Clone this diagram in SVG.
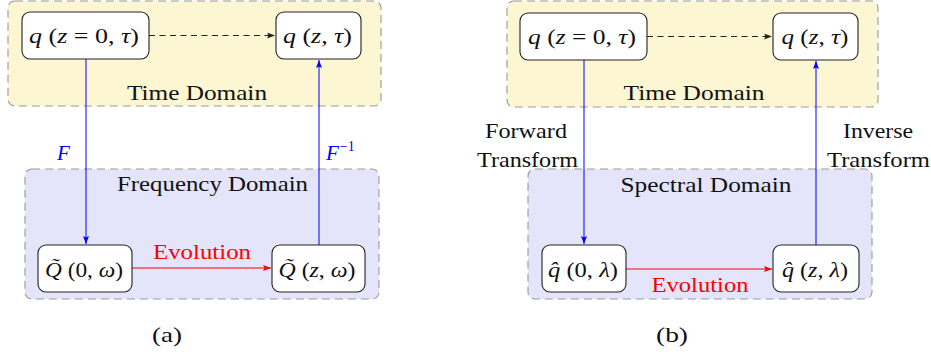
<svg xmlns="http://www.w3.org/2000/svg" width="931" height="360" viewBox="0 0 931 360">
<style>
text{font-family:"Liberation Serif","Times New Roman",serif;font-size:21px;fill:#111;}
.i{font-style:italic;}
.mid{text-anchor:middle;}
.node rect{fill:#fff;stroke:#222;stroke-width:1.1;}
.tbox{fill:#fcf6d2;stroke:#999;stroke-width:1.1;stroke-dasharray:8 5;}
.fbox{fill:#e4e4fb;stroke:#999;stroke-width:1.1;stroke-dasharray:8 5;}
.dash{stroke:#222;stroke-width:1;stroke-dasharray:6 4.5;fill:none;}
.blue{stroke:#0000ff;stroke-width:1;fill:none;}
.red{stroke:#ff0000;stroke-width:1;fill:none;}
.bt{fill:#0000ff;}
.rt{fill:#ff0000;}
</style>
<defs>
<marker id="ak" viewBox="0 0 8 6" refX="8" refY="3" markerWidth="8" markerHeight="6" markerUnits="userSpaceOnUse" orient="auto"><path d="M0,0 L8,3 L0,6 L1.5,3 Z" fill="#222"/></marker>
<marker id="ab" viewBox="0 0 8 6" refX="8" refY="3" markerWidth="8" markerHeight="6" markerUnits="userSpaceOnUse" orient="auto"><path d="M0,0 L8,3 L0,6 L1.5,3 Z" fill="#0000ff"/></marker>
<marker id="ar" viewBox="0 0 8 6" refX="8" refY="3" markerWidth="8" markerHeight="6" markerUnits="userSpaceOnUse" orient="auto"><path d="M0,0 L8,3 L0,6 L1.5,3 Z" fill="#ff0000"/></marker>
</defs>

<!-- Panel (a) domains -->
<g id="a-time-domain">
<rect class="tbox" x="8" y="1" width="373" height="105" rx="7"/>
<text class="mid" x="197" y="100" textLength="140" lengthAdjust="spacingAndGlyphs">Time Domain</text>
</g>
<g id="a-freq-domain">
<rect class="fbox" x="25" y="169" width="354" height="130" rx="7"/>
<text class="mid" x="212.5" y="191" textLength="191" lengthAdjust="spacingAndGlyphs">Frequency Domain</text>
</g>

<!-- Panel (b) domains -->
<g id="b-time-domain">
<rect class="tbox" x="507" y="1" width="371" height="106" rx="7"/>
<text class="mid" x="694" y="100" textLength="141" lengthAdjust="spacingAndGlyphs">Time Domain</text>
</g>
<g id="b-spectral-domain">
<rect class="fbox" x="528" y="169" width="344" height="130" rx="7"/>
<text class="mid" x="706" y="192" textLength="171" lengthAdjust="spacingAndGlyphs">Spectral Domain</text>
</g>

<!-- connectors -->
<g id="connectors">
<line class="dash" x1="149" y1="35.5" x2="275" y2="35.5" marker-end="url(#ak)"/>
<line class="blue" x1="86" y1="59" x2="86" y2="244" marker-end="url(#ab)"/>
<line class="blue" x1="319" y1="245" x2="319" y2="60" marker-end="url(#ab)"/>
<line class="red" x1="132" y1="268" x2="271" y2="268" marker-end="url(#ar)"/>
<text class="mid rt" x="202" y="259" textLength="98" lengthAdjust="spacingAndGlyphs">Evolution</text>
<text class="i bt" x="57" y="160" font-family="DejaVu Serif, serif">F</text>
<text class="i bt" x="326" y="160" font-family="DejaVu Serif, serif">F<tspan dx="1" dy="-9" font-size="14" font-style="normal">−1</tspan></text>

<line class="dash" x1="647" y1="36.5" x2="772" y2="36.5" marker-end="url(#ak)"/>
<line class="blue" x1="584" y1="60" x2="584" y2="244" marker-end="url(#ab)"/>
<line class="blue" x1="816" y1="245" x2="816" y2="61" marker-end="url(#ab)"/>
<line class="red" x1="626" y1="269" x2="772" y2="269" marker-end="url(#ar)"/>
<text class="mid rt" x="700" y="292" textLength="97" lengthAdjust="spacingAndGlyphs">Evolution</text>
<text class="mid" x="526" y="138" textLength="82" lengthAdjust="spacingAndGlyphs">Forward</text>
<text class="mid" x="527.5" y="167" textLength="101" lengthAdjust="spacingAndGlyphs">Transform</text>
<text class="mid" x="878" y="138" textLength="70" lengthAdjust="spacingAndGlyphs">Inverse</text>
<text class="mid" x="878.5" y="167" textLength="103" lengthAdjust="spacingAndGlyphs">Transform</text>
</g>

<!-- Panel (a) nodes -->
<g id="a-q0" class="node">
<rect x="22" y="12" width="127" height="47" rx="8"/>
<text class="mid" x="84" y="43" textLength="110" lengthAdjust="spacingAndGlyphs"><tspan class="i">q</tspan> (<tspan class="i">z</tspan> = 0, <tspan class="i">τ</tspan>)</text>
</g>
<g id="a-qz" class="node">
<rect x="276" y="12" width="85" height="47" rx="8"/>
<text class="mid" x="317.5" y="43" textLength="69" lengthAdjust="spacingAndGlyphs"><tspan class="i">q</tspan> (<tspan class="i">z</tspan>, <tspan class="i">τ</tspan>)</text>
</g>
<g id="a-Q0" class="node">
<rect x="38" y="245" width="94" height="47" rx="8"/>
<text class="mid" x="84" y="277" textLength="78" lengthAdjust="spacingAndGlyphs"><tspan class="i">Q̃</tspan> (0, <tspan class="i">ω</tspan>)</text>
</g>
<g id="a-Qz" class="node">
<rect x="272" y="245" width="93" height="47" rx="8"/>
<text class="mid" x="317" y="277" textLength="77" lengthAdjust="spacingAndGlyphs"><tspan class="i">Q̃</tspan> (<tspan class="i">z</tspan>, <tspan class="i">ω</tspan>)</text>
</g>

<!-- Panel (b) nodes -->
<g id="b-q0" class="node">
<rect x="520" y="13" width="127" height="47" rx="8"/>
<text class="mid" x="582" y="44" textLength="108" lengthAdjust="spacingAndGlyphs"><tspan class="i">q</tspan> (<tspan class="i">z</tspan> = 0, <tspan class="i">τ</tspan>)</text>
</g>
<g id="b-qz" class="node">
<rect x="773" y="13" width="85" height="47" rx="8"/>
<text class="mid" x="815" y="44" textLength="67" lengthAdjust="spacingAndGlyphs"><tspan class="i">q</tspan> (<tspan class="i">z</tspan>, <tspan class="i">τ</tspan>)</text>
</g>
<g id="b-qh0" class="node">
<rect x="542" y="245" width="84" height="47" rx="8"/>
<text class="mid" x="583" y="277" textLength="70" lengthAdjust="spacingAndGlyphs"><tspan class="i">q̂</tspan> (0, <tspan class="i">λ</tspan>)</text>
</g>
<g id="b-qhz" class="node">
<rect x="773" y="245" width="86" height="47" rx="8"/>
<text class="mid" x="815" y="277" textLength="66" lengthAdjust="spacingAndGlyphs"><tspan class="i">q̂</tspan> (<tspan class="i">z</tspan>, <tspan class="i">λ</tspan>)</text>
</g>

<!-- captions -->
<text class="mid" x="167" y="342" font-size="22" textLength="30" lengthAdjust="spacingAndGlyphs">(a)</text>
<text class="mid" x="672" y="342" font-size="22" textLength="32" lengthAdjust="spacingAndGlyphs">(b)</text>
</svg>
